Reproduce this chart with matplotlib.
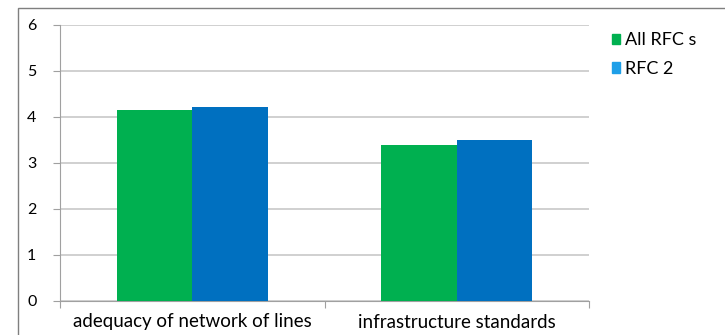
import matplotlib
matplotlib.use("Agg")
from matplotlib import pyplot as plt
from matplotlib.patches import Rectangle, Patch
import numpy as np

categories = ["adequacy of network of lines", "infrastructure standards"]
all_rfcs = [4.15, 3.39]
rfc2 = [4.22, 3.5]
series_names = ["All RFC s", "RFC 2"]

plt.rcParams['font.family'] = ['Lato', 'DejaVu Sans']

fig = plt.figure(figsize=(7.25, 3.35), dpi=100)
ax = fig.add_axes([60 / 725, 1 - 301 / 335, (589 - 60) / 725, (301 - 25) / 335])

x = np.arange(len(categories))
w = 0.285
ax.bar(x - w / 2, all_rfcs, w, color="#00B050", zorder=3)
ax.bar(x + w / 2, rfc2, w, color="#0070C0", zorder=3)

ax.set_xlim(-0.5, 1.5)
ax.set_ylim(0, 6)
ax.set_yticks(range(7))
ax.yaxis.grid(True, color="#c8c8c8", lw=1.2, zorder=0)
ax.set_xticks([-0.5, 0.5, 1.5])
ax.set_xticklabels([])
ax.set_xticks(x, minor=True)
ax.set_xticklabels(categories, minor=True)
ax.tick_params(axis="x", which="minor", length=0, pad=9, labelsize=13.5)
ax.tick_params(axis="x", which="major", length=5, color="#a0a0a0")
ax.tick_params(axis="y", length=5, color="#a0a0a0", labelsize=11.5, pad=12)
for s in ["top", "right"]:
    ax.spines[s].set_visible(False)
for s in ["left", "bottom"]:
    ax.spines[s].set_color("#a0a0a0")

handles = [Patch(color="#00B050"), Patch(color="#1E9FE8")]
fig.legend(handles, series_names, loc="upper left", bbox_to_anchor=(596 / 725, 1 - 16 / 335),
           frameon=False, handlelength=0.45, handleheight=0.5, handletextpad=0.25,
           labelspacing=0.7, fontsize=13)

# outer chart border
fig.patches.append(Rectangle((18 / 725, -0.05), 1.1, 1 - 8 / 335 + 0.05, transform=fig.transFigure,
                             fill=False, ec="#7f7f7f", lw=1.0))

fig.savefig("out.png", dpi=100)
